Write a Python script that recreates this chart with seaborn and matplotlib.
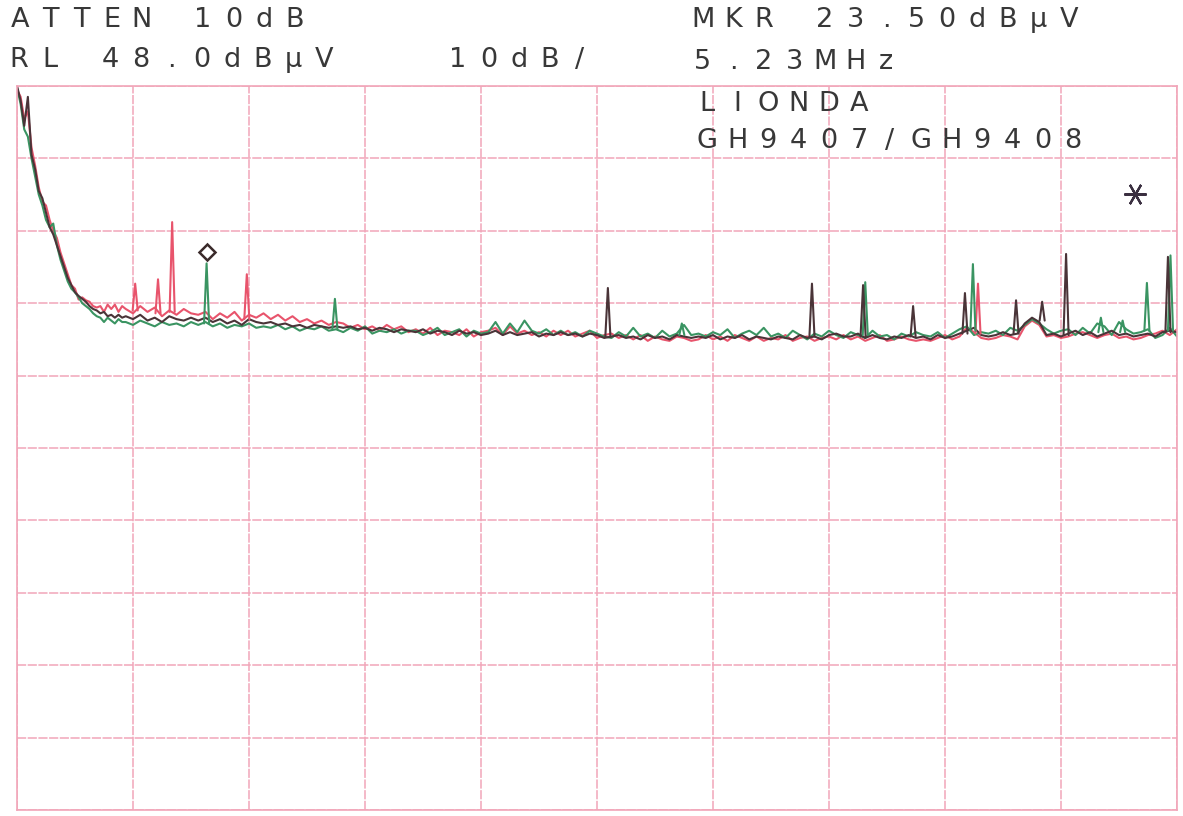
import numpy as np
import pandas as pd
import seaborn as sns
import matplotlib.pyplot as plt
from matplotlib.transforms import offset_copy

# sweep grid (MHz): fine steps in the first 3 MHz, then 0.2 MHz
freq_lo = np.round(np.arange(0.0, 3.0, 0.1), 2)
freq_hi = np.round(np.arange(3.0, 32.01, 0.2), 2)
freq = np.concatenate([freq_lo, freq_hi])

# trace levels in dBuV
dark_lo = [48.0, 46.0, 42.5, 46.5, 38.5, 36.5, 33.5, 32.5, 30.5, 28.5,
           27.5, 26.0, 24.5, 23.0, 21.5, 20.5, 19.5, 19.0, 18.6, 18.2,
           17.6, 17.2, 17.0, 16.6, 16.8, 16.2, 16.4, 16.0, 16.4, 16.0]
red_lo = [47.5, 46.5, 43.5, 44.5, 39.5, 37.0, 34.0, 32.0, 31.5, 29.5,
          28.0, 27.0, 25.0, 23.5, 22.0, 20.5, 20.0, 18.5, 18.8, 18.4,
          18.2, 17.6, 17.4, 17.6, 16.8, 17.8, 17.2, 17.8, 16.8, 17.6]
green_lo = [47.8, 45.5, 42.0, 41.0, 38.0, 35.5, 33.0, 31.5, 29.5, 28.5,
            29.0, 26.0, 24.0, 22.5, 21.0, 20.0, 19.5, 18.8, 18.0, 17.6,
            17.2, 16.6, 16.2, 16.0, 15.4, 16.0, 15.6, 15.2, 15.8, 15.4]

dark_hi = [16.2, 15.8, 16.4, 15.6, 16.0, 15.4, 16.2, 15.8, 15.6, 16.0,
           15.6, 16.0, 15.4, 15.8, 15.2, 15.6, 15.0, 15.8, 15.4, 15.2,
           15.4, 15.0, 15.2, 14.8, 15.0, 14.6, 15.0, 14.8, 14.6, 14.8,
           14.6, 14.8, 14.4, 14.6, 14.2, 14.6, 14.4, 14.0, 14.4, 14.2,
           14.0, 14.4, 13.8, 14.2, 14.0, 13.6, 14.2, 13.8, 14.0, 13.6,
           13.8, 14.2, 13.6, 14.0, 13.6, 13.8, 14.0, 13.4, 13.8, 13.6,
           14.0, 13.6, 13.8, 13.4, 13.8, 13.6, 13.2, 13.4, 13.6, 13.2,
           13.4, 13.0, 13.6, 13.2, 13.4, 13.0, 13.6, 13.4, 13.2, 13.4,
           13.2, 13.6, 13.0, 13.4, 13.2, 13.6, 13.0, 13.4, 13.2, 13.0,
           13.4, 13.2, 13.0, 13.6, 13.2, 13.4, 13.0, 13.6, 13.8, 13.4,
           13.4, 13.8, 13.2, 13.6, 13.2, 13.0, 13.4, 13.2, 13.6, 13.2,
           13.4, 13.0, 13.6, 13.2, 13.4, 13.8, 14.2, 14.6, 13.6, 13.4,
           13.6, 14.0, 13.6, 13.8, 15.2, 16.0, 15.4, 13.6, 13.8, 13.4,
           13.8, 14.2, 13.6, 14.0, 13.4, 13.8, 14.2, 13.6, 13.8, 13.4,
           13.6, 13.8, 13.4, 14.0, 14.2, 14.0]
red_hi = [17.2, 16.6, 17.6, 16.8, 17.4, 16.2, 17.0, 16.4, 17.2, 16.6,
          16.4, 16.8, 15.8, 16.6, 16.0, 16.8, 15.6, 16.4, 16.0, 16.6,
          15.8, 16.4, 15.6, 16.2, 15.4, 15.8, 15.2, 15.6, 15.0, 15.4,
          15.2, 14.6, 15.0, 14.4, 14.8, 14.2, 15.0, 14.4, 14.8, 14.0,
          14.4, 13.8, 14.6, 13.6, 14.2, 14.0, 13.6, 14.4, 13.4, 14.0,
          14.2, 14.6, 13.6, 14.8, 13.8, 14.2, 13.6, 14.0, 13.4, 14.2,
          13.6, 14.2, 13.4, 13.8, 14.2, 13.2, 13.6, 13.8, 13.2, 13.6,
          13.0, 13.6, 12.8, 13.4, 13.0, 12.8, 13.4, 13.2, 12.8, 13.0,
          13.6, 13.0, 13.4, 12.8, 13.6, 13.2, 12.8, 13.4, 12.8, 13.2,
          13.0, 13.6, 12.8, 13.2, 13.4, 12.8, 13.2, 13.4, 13.0, 13.6,
          13.0, 13.4, 12.8, 13.2, 13.6, 12.8, 13.0, 13.4, 13.0, 12.8,
          13.0, 12.8, 13.2, 13.6, 13.0, 13.4, 14.6, 14.0, 13.2, 13.0,
          13.2, 13.6, 13.4, 13.0, 14.8, 15.6, 15.0, 13.4, 13.6, 13.2,
          13.4, 13.8, 14.0, 13.6, 13.2, 13.6, 13.8, 13.2, 13.4, 13.0,
          13.2, 13.6, 13.8, 14.2, 13.6, 14.4]
green_hi = [15.4, 15.0, 15.6, 15.2, 14.8, 15.4, 15.0, 15.2, 14.8, 15.4,
            15.0, 15.4, 14.8, 15.2, 14.6, 15.0, 14.8, 15.2, 14.6, 14.8,
            14.6, 15.0, 14.4, 14.8, 14.2, 14.6, 14.4, 14.8, 14.2, 14.4,
            14.0, 14.6, 14.2, 14.8, 13.8, 14.2, 14.0, 14.4, 13.8, 14.2,
            14.2, 13.6, 14.0, 14.6, 13.6, 14.0, 14.4, 13.4, 14.2, 13.8,
            14.0, 15.4, 13.8, 15.2, 14.0, 15.6, 14.2, 13.8, 14.4, 13.6,
            14.2, 13.6, 14.0, 13.4, 14.2, 13.8, 13.4, 13.2, 14.0, 13.4,
            14.6, 13.4, 13.8, 13.2, 14.2, 13.4, 13.8, 15.0, 13.6, 13.8,
            13.4, 14.0, 13.6, 14.4, 13.2, 13.8, 14.2, 13.6, 14.6, 13.4,
            13.8, 13.2, 14.2, 13.6, 13.0, 13.8, 13.4, 14.2, 13.6, 13.2,
            14.0, 13.6, 13.2, 14.2, 13.4, 13.6, 13.0, 13.8, 13.4, 14.0,
            13.6, 13.4, 14.0, 13.2, 13.8, 14.4, 14.8, 13.6, 14.0, 13.8,
            14.2, 13.6, 14.6, 14.2, 15.0, 15.8, 15.2, 14.4, 13.8, 14.2,
            14.4, 13.6, 14.6, 13.8, 15.2, 14.8, 13.6, 15.4, 14.4, 13.8,
            14.0, 14.4, 13.2, 13.6, 14.6, 13.4]

red_lvl = red_lo + red_hi
green_lvl = green_lo + green_hi
dark_lvl = dark_lo + dark_hi

# narrow discrete spurs: frequency (MHz), peak (dBuV), floor below it
spk_trace = ['dark'] * 9 + ['green'] * 9 + ['red'] * 5
spk_freq = [16.30, 21.93, 23.34, 24.72, 26.15, 27.56, 28.28, 28.94, 31.75,
            5.23, 8.77, 18.34, 23.40, 26.37, 31.17, 31.82, 29.90, 30.50,
            3.26, 3.89, 4.28, 6.34, 26.51]
spk_peak = [20.1, 20.7, 20.5, 17.6, 19.4, 18.4, 18.2, 24.8, 24.4,
            23.5, 18.6, 15.2, 20.9, 23.4, 20.8, 24.6, 16.0, 15.6,
            20.7, 21.3, 29.2, 22.0, 20.7]
spk_base = [13.4, 13.4, 13.4, 13.4, 13.8, 13.8, 15.6, 13.6, 14.0,
            15.2, 14.4, 13.6, 13.6, 14.2, 14.2, 14.2, 14.0, 14.0,
            17.0, 16.6, 16.8, 15.8, 13.8]

ref_level = 48.0
db_per_div = 10
f_start, f_stop = 0.0, 32.0
mkr_freq, mkr_level = 5.23, 23.5

colors = {'red': '#e8546c', 'green': '#3a9462', 'dark': '#4a3438'}
grid_col = '#f1a6b9'
text_col = '#383838'

sns.set_style('white')
plt.rcParams['font.family'] = ['DejaVu Sans']

fig = plt.figure(figsize=(11.83, 8.16), dpi=100)
W, H = 1183, 816
ax = fig.add_axes([17 / W, 6 / H, 1160 / W, 724 / H])

df = pd.DataFrame({'freq': np.tile(freq, 3),
                   'level': red_lvl + green_lvl + dark_lvl,
                   'trace': ['red'] * len(freq) + ['green'] * len(freq) + ['dark'] * len(freq)})

for tr in ['red', 'green', 'dark']:
    sub = df[df.trace == tr]
    sns.lineplot(x='freq', y='level', data=sub, color=colors[tr], lw=1.5,
                 estimator=None, sort=False, ax=ax)

half_w = 0.07
for tr in ['red', 'green', 'dark']:
    for t, f, p, b in zip(spk_trace, spk_freq, spk_peak, spk_base):
        if t != tr:
            continue
        ax.plot([f - half_w, f, f + half_w], [b, p, b], color=colors[t], lw=1.5)

# marker diamond sits a little above the peak
mk_tr = offset_copy(ax.transData, fig=fig, y=11, units='dots')
ax.plot([mkr_freq], [mkr_level], marker='D', ms=8, mfc='white', mec='#3a2a2a',
        mew=1.8, transform=mk_tr, zorder=5)

ax.plot([0.964], [0.851], marker=(6, 2, 90), ms=16, mec='#3a2f40', mew=1.6,
        transform=ax.transAxes)

ax.set_xlim(f_start, f_stop)
ax.set_ylim(ref_level - 10 * db_per_div, ref_level)
ax.set_xticks(np.linspace(f_start, f_stop, 11))
ax.set_yticks(np.arange(ref_level - 10 * db_per_div, ref_level + 1, db_per_div))
ax.tick_params(length=0, labelbottom=False, labelleft=False)
ax.set_xlabel('')
ax.set_ylabel('')
ax.grid(True, color=grid_col, lw=1.1, ls=(0, (6, 1)))
for s in ax.spines.values():
    s.set_color(grid_col)
    s.set_linewidth(1.2)


def plotter_text(x0, y0, s, pitch=30.5, size=19.5):
    # fixed-pitch lettering like the analyzer's plotter
    for i, ch in enumerate(s):
        if ch == ' ':
            continue
        fig.text((x0 + i * pitch) / W, 1 - y0 / H, ch, ha='center', va='center',
                 fontsize=size, color=text_col)


plotter_text(20, 20, 'ATTEN 10dB')
plotter_text(19, 60, 'RL 48.0dB\u00b5V')
plotter_text(458, 60, '10dB/')
plotter_text(703, 20, 'MKR 23.50dB\u00b5V')
plotter_text(703, 62, '5.23MHz')
plotter_text(707, 104, 'LIONDA')
plotter_text(707, 141, 'GH9407/GH9408')

fig.savefig('out.png', dpi=100)
